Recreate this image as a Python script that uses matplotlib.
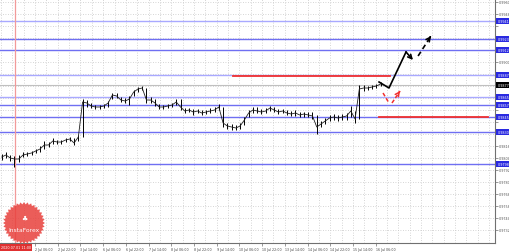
import numpy as np
import matplotlib.pyplot as plt
from matplotlib.patches import Polygon
from matplotlib.transforms import blended_transform_factory

# ---- data (H1 chart, aggregated per 3 hours) ----
bar_hours = np.arange(90) * 3 + 1.5

closes = [0.9805, 0.9807, 0.9804, 0.9803, 0.9803, 0.9807, 0.9808, 0.9809, 0.9811, 0.9813,
          0.9817, 0.9817, 0.9821, 0.9820, 0.9820, 0.9822, 0.9823, 0.9819, 0.9825, 0.9860,
          0.9859, 0.9856, 0.9855, 0.9855, 0.9856, 0.9859, 0.9867, 0.9866, 0.9862, 0.9861,
          0.9863, 0.9870, 0.9873, 0.9874, 0.9862, 0.9862, 0.9859, 0.9855, 0.9855, 0.9856,
          0.9857, 0.9860, 0.9855, 0.9851, 0.9852, 0.9850, 0.9851, 0.9849, 0.9850, 0.9851,
          0.9852, 0.9855, 0.9839, 0.9836, 0.9835, 0.9834, 0.9836, 0.9842, 0.9849, 0.9852,
          0.9851, 0.9850, 0.9851, 0.9854, 0.9852, 0.9850, 0.9851, 0.9849, 0.9848, 0.9849,
          0.9847, 0.9848, 0.9847, 0.9846, 0.9835, 0.9838, 0.9841, 0.9844, 0.9845, 0.9844,
          0.9845, 0.9846, 0.9851, 0.9843, 0.9873, 0.9874, 0.9874, 0.9875, 0.9876, 0.9878]

highs = [0.9808, 0.9810, 0.9807, 0.9806, 0.9807, 0.9810, 0.9810, 0.9811, 0.9813, 0.9816,
         0.9821, 0.9820, 0.9824, 0.9822, 0.9822, 0.9824, 0.9825, 0.9824, 0.9827, 0.9863,
         0.9862, 0.9859, 0.9857, 0.9857, 0.9858, 0.9861, 0.9869, 0.9869, 0.9865, 0.9864,
         0.9866, 0.9872, 0.9875, 0.9876, 0.9874, 0.9865, 0.9863, 0.9858, 0.9857, 0.9858,
         0.9859, 0.9863, 0.9863, 0.9854, 0.9854, 0.9853, 0.9853, 0.9852, 0.9852, 0.9854,
         0.9855, 0.9858, 0.9855, 0.9839, 0.9838, 0.9837, 0.9839, 0.9845, 0.9852, 0.9855,
         0.9855, 0.9853, 0.9854, 0.9856, 0.9855, 0.9853, 0.9853, 0.9852, 0.9851, 0.9852,
         0.9850, 0.9850, 0.9850, 0.9850, 0.9847, 0.9841, 0.9844, 0.9847, 0.9848, 0.9847,
         0.9848, 0.9849, 0.9856, 0.9851, 0.9877, 0.9877, 0.9876, 0.9877, 0.9878, 0.9880]

lows = [0.9802, 0.9804, 0.9801, 0.9795, 0.9800, 0.9805, 0.9806, 0.9807, 0.9809, 0.9810,
        0.9813, 0.9815, 0.9818, 0.9818, 0.9818, 0.9820, 0.9821, 0.9817, 0.9821, 0.9825,
        0.9855, 0.9854, 0.9853, 0.9853, 0.9854, 0.9855, 0.9863, 0.9864, 0.9860, 0.9859,
        0.9857, 0.9866, 0.9870, 0.9872, 0.9859, 0.9859, 0.9856, 0.9853, 0.9853, 0.9854,
        0.9855, 0.9857, 0.9852, 0.9849, 0.9850, 0.9847, 0.9849, 0.9847, 0.9848, 0.9849,
        0.9850, 0.9852, 0.9835, 0.9833, 0.9832, 0.9832, 0.9833, 0.9837, 0.9845, 0.9849,
        0.9849, 0.9848, 0.9849, 0.9851, 0.9850, 0.9848, 0.9849, 0.9847, 0.9846, 0.9846,
        0.9845, 0.9845, 0.9845, 0.9843, 0.9828, 0.9835, 0.9838, 0.9841, 0.9842, 0.9841,
        0.9842, 0.9842, 0.9845, 0.9839, 0.9843, 0.9871, 0.9872, 0.9873, 0.9874, 0.9876]

# horizontal levels
light_levels = [0.9941, 0.9887, 0.9865]
dark_levels = [0.9923, 0.9912, 0.9857, 0.9845, 0.9830, 0.9798]
bid_price = 0.9877

# red resistance / support segments (start hour, end hour, price)
red_segments = [(164.5, 275.1, 0.98865), (267.4, 344.2, 0.9845)]
red_vline_hour = 10.9

# forecast paths
main_path_x = [267.4, 274.4, 286.4, 291.3]
main_path_y = [0.9880, 0.9874, 0.9910, 0.9902]
dash_path_x = [294.9, 304.0]
dash_path_y = [0.9906, 0.9926]
alt_down_x = [270.2, 274.4]
alt_down_y = [0.9869, 0.9859]
alt_up_x = [276.5, 282.2]
alt_up_y = [0.9859, 0.9871]

# axes ticks
price_ticks = [0.9960, 0.9948, 0.9936, 0.9924, 0.9912, 0.9900, 0.9888, 0.9876, 0.9864, 0.9852,
               0.9840, 0.9828, 0.9816, 0.9804, 0.9792, 0.9780, 0.9768, 0.9756, 0.9744, 0.9732]
time_ticks = [25, 41, 57, 73, 89, 105, 121, 137, 153, 169, 185, 201, 217, 233, 249, 265]
time_labels = ['2 Jul 06:00', '2 Jul 22:00', '3 Jul 14:00', '6 Jul 06:00', '6 Jul 22:00',
               '7 Jul 14:00', '8 Jul 06:00', '8 Jul 22:00', '9 Jul 14:00', '10 Jul 06:00',
               '10 Jul 22:00', '13 Jul 14:00', '14 Jul 06:00', '14 Jul 22:00', '15 Jul 14:00',
               '16 Jul 06:00']
grid_hours = np.arange(1, 350, 8)

fig = plt.figure(figsize=(5.10, 2.53), dpi=100)
ax = fig.add_axes([0, 9 / 253, 495 / 510, 244 / 253])
ax.set_xlim(0.3, 349.1)
ax.set_ylim(0.9719, 0.9963)

# grid
for g in grid_hours:
    ax.axvline(g, color='#c8c8c8', lw=0.6, ls=(0, (1, 2)), zorder=0)
for t in price_ticks:
    ax.axhline(t, color='#c8c8c8', lw=0.6, ls=(0, (1, 2)), zorder=0)

# levels
for lv in light_levels:
    ax.axhline(lv, color='#a9a9ff', lw=1.0, zorder=1)
for lv in dark_levels:
    ax.axhline(lv, color='#6f6ff2', lw=1.0, zorder=1)
ax.axhline(bid_price, color='#c0c0c0', lw=0.8, zorder=1)
ax.axvline(red_vline_hour, color='#f29a9a', lw=0.9, zorder=1)
for x0, x1, p in red_segments:
    ax.plot([x0, x1], [p, p], color='#f03030', lw=1.3, zorder=2)

# price bars
ax.vlines(bar_hours, lows, highs, color='black', lw=0.7, zorder=3)
ax.plot(bar_hours, closes, color='#202020', lw=0.6, zorder=3)

# forecast arrows
ax.plot(main_path_x[:-1], main_path_y[:-1], color='black', lw=1.2, zorder=4)
ax.annotate('', xy=(main_path_x[-1], main_path_y[-1]), xytext=(main_path_x[-2], main_path_y[-2]),
            arrowprops=dict(arrowstyle='->', color='black', lw=1.2, mutation_scale=7,
                            shrinkA=0, shrinkB=0), zorder=4)
ax.plot(dash_path_x, dash_path_y, color='black', lw=1.2, ls=(0, (3, 2)), zorder=4)
ax.annotate('', xy=(dash_path_x[-1], dash_path_y[-1]),
            xytext=(dash_path_x[-1] - 0.6, dash_path_y[-1] - 0.00012),
            arrowprops=dict(arrowstyle='->', color='black', lw=1.2, mutation_scale=7,
                            shrinkA=0, shrinkB=0), zorder=4)
ax.plot(alt_down_x, alt_down_y, color='#f03030', lw=1.1, ls=(0, (2.5, 1.5)), zorder=4)
ax.plot(alt_up_x, alt_up_y, color='#f03030', lw=1.1, ls=(0, (2.5, 1.5)), zorder=4)
ax.annotate('', xy=(alt_up_x[-1], alt_up_y[-1]),
            xytext=(alt_up_x[-1] - 0.5, alt_up_y[-1] - 0.0001),
            arrowprops=dict(arrowstyle='->', color='#f03030', lw=1.1, mutation_scale=7,
                            shrinkA=0, shrinkB=0), zorder=4)

# axes styling
for s in ['top', 'left']:
    ax.spines[s].set_visible(False)
ax.spines['right'].set_color('#707070')
ax.spines['bottom'].set_color('#707070')
ax.spines['right'].set_linewidth(0.8)
ax.spines['bottom'].set_linewidth(0.8)
ax.yaxis.tick_right()
ax.set_yticks(price_ticks)
all_levels = light_levels + dark_levels + [bid_price]
ax.set_yticklabels(['' if min(abs(t - lv) for lv in all_levels) < 0.0006 else '%.4f' % t
                    for t in price_ticks])
ax.tick_params(axis='y', length=2, width=0.5, pad=0.5, labelsize=2.4, colors='#707070',
               labelcolor='#555555')
ax.set_xticks(time_ticks)
ax.set_xticklabels(time_labels, ha='left')
ax.tick_params(axis='x', length=2, width=0.5, pad=0.8, labelsize=2.3, colors='#707070',
               labelcolor='#444444')

# level labels on the price scale
tr = blended_transform_factory(ax.transAxes, ax.transData)
for lv in light_levels + dark_levels:
    ax.text(1.005, lv, '%.4f' % lv, transform=tr, fontsize=2.4, color='white', va='center',
            ha='left', bbox=dict(boxstyle='square,pad=0.3', fc='#2a2ae0', ec='none'),
            clip_on=False, zorder=5)
ax.text(1.005, bid_price, '%.4f' % bid_price, transform=tr, fontsize=2.4, color='white',
        va='center', ha='left', bbox=dict(boxstyle='square,pad=0.3', fc='black', ec='none'),
        clip_on=False, zorder=5)

# time label of the vertical line
fig.text(1 / 510, 4.5 / 253, '2020.07.01 11:00', fontsize=2.4, color='white', va='center',
         ha='left', bbox=dict(boxstyle='square,pad=0.4', fc='#e03030', ec='none'))

# watermark seal
lax = fig.add_axes([(24 - 22) / 510, (253 - 224 - 22) / 253, 44 / 510, 44 / 253])
lax.set_xlim(-1, 1)
lax.set_ylim(-1, 1)
lax.axis('off')
ang = np.linspace(0, 2 * np.pi, 72, endpoint=False)
rad = np.where(np.arange(72) % 2 == 0, 0.95, 0.85)
lax.add_patch(Polygon(np.c_[rad * np.cos(ang), rad * np.sin(ang)], closed=True,
                      fc='#e8403c', ec='none', alpha=0.85))
lax.text(0, 0.2, '\u2663', color='white', fontsize=5, ha='center', va='center')
lax.text(0, -0.3, 'InstaForex', color='white', fontsize=4.3, ha='center', va='center')

fig.savefig('out.png', dpi=100, facecolor='white')
